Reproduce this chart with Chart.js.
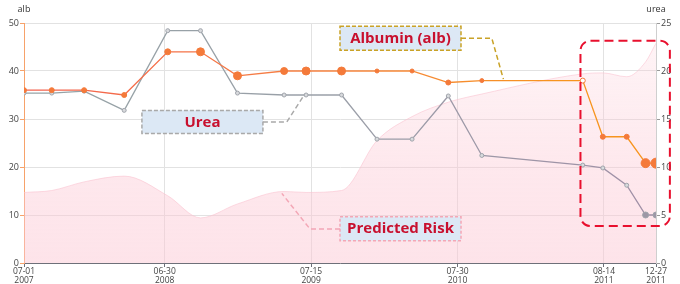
<!DOCTYPE html>
<html>
<head>
<meta charset="utf-8">
<script src="https://cdn.jsdelivr.net/npm/chart.js@4.4.1/dist/chart.umd.min.js"></script>
<style>
html,body{margin:0;padding:0;background:#fff;}
#wrap{width:680px;height:284px;}
</style>
</head>
<body>
<div id="wrap"><canvas id="c" width="680" height="284"></canvas></div>
<script>
// visit dates (x) and the three series
const visitDates = ['2007-07-01','2007-09-11','2007-12-04','2008-03-17','2008-07-08','2008-10-01','2009-01-05',
  '2009-05-06','2009-07-02','2009-10-02','2010-01-02','2010-04-03','2010-07-06','2010-10-01',
  '2011-06-20','2011-08-11','2011-10-12','2011-11-30','2011-12-27'];
const albumin = [36, 36, 36, 35, 44, 44, 39, 40, 40, 40, 40, 40, 37.6, 38, 38, 26.3, 26.3, 20.8, 20.8];
const urea = [17.7, 17.7, 17.9, 15.9, 24.2, 24.2, 17.7, 17.5, 17.5, 17.5, 12.9, 12.9, 17.4, 11.2, 10.2, 9.9, 8.1, 5, 5];
const predictedRisk = [14.7, 15.1, 16.9, 18.1, 14, 9.4, 12.3, 14.9, 14.7, 15.1, 25.5, 30.5, 33.5, 35.2, 39.4, 39.6, 38.8, 41.9, 45.8];
const xTickDates = ['2007-07-01','2008-06-30','2009-07-15','2010-07-30','2011-08-14','2011-12-27'];
const albTicks = [0, 10, 20, 30, 40, 50];
const ureaTicks = [0, 5, 10, 15, 20, 25];

// point sizes per visit
const albRadius = [2.5, 2.5, 2.5, 2.5, 3, 4, 4, 3.5, 4, 4, 2, 2, 2.5, 2, 2.5, 2.5, 2.5, 4.5, 5];
const ureaRadius = [2, 2, 2, 2, 2, 2, 2, 2, 2, 2, 2, 2, 2, 2, 2, 2, 2, 3, 3];
const albHollow = [14];

const DAY = 86400000;
const t0 = Date.parse(visitDates[0]);
const dayOf = s => (Date.parse(s) - t0) / DAY;
const pad = n => String(n).padStart(2, '0');
const FONT = "'Open Sans', 'Noto Sans', sans-serif";

// callouts, anchored in (day, alb-axis value)
const callouts = [
  {text: 'Albumin (alb)', cx: 977, cy: 46.8, w: 121, h: 24, border: '#c9a227', dash: [4, 2],
   leader: [[1134, 46.8], [1214, 46.8], [1244, 38.3]]},
  {text: 'Urea', cx: 463, cy: 29.4, w: 121, h: 23, border: '#a9a9a9', dash: [4, 2],
   leader: [[620, 29.4], [682, 29.4], [727, 35]]},
  {text: 'Predicted Risk', cx: 977, cy: 7.15, w: 121, h: 24, border: '#f3a7b6', dash: [3, 2],
   leader: [[820, 7.1], [742, 7.1], [669, 14.5]]}
];
const focusBox = {x1: 1444, x2: 1676, y1: 46.3, y2: 7.7};

function hGrad(chart, stops) {
  const a = chart.chartArea;
  if (!a) return stops[0][1];
  const g = chart.ctx.createLinearGradient(a.left, 0, a.right, 0);
  stops.forEach(s => g.addColorStop(s[0], s[1]));
  return g;
}

const overlay = {
  id: 'overlay',
  afterDatasetsDraw(chart) {
    const ctx = chart.ctx, x = chart.scales.x, y = chart.scales.y, a = chart.chartArea;
    ctx.save();
    ctx.font = '9px ' + FONT;
    ctx.fillStyle = '#333';
    ctx.textAlign = 'center';
    ctx.textBaseline = 'middle';
    ctx.fillText('alb', a.left, 9);
    ctx.fillText('urea', a.right, 9);

    callouts.forEach(c => {
      const px = x.getPixelForValue(c.cx), py = y.getPixelForValue(c.cy);
      ctx.setLineDash([5, 3]);
      ctx.lineWidth = 1.5;
      ctx.strokeStyle = c.border;
      ctx.beginPath();
      c.leader.forEach((p, i) => {
        const lx = x.getPixelForValue(p[0]), ly = y.getPixelForValue(p[1]);
        if (i === 0) ctx.moveTo(lx, ly); else ctx.lineTo(lx, ly);
      });
      ctx.stroke();
      ctx.fillStyle = '#dce8f5';
      ctx.fillRect(px - c.w / 2, py - c.h / 2, c.w, c.h);
      ctx.setLineDash(c.dash);
      ctx.strokeRect(px - c.w / 2, py - c.h / 2, c.w, c.h);
      ctx.setLineDash([]);
      ctx.fillStyle = '#c8102e';
      ctx.font = 'bold 15px ' + FONT;
      ctx.fillText(c.text, px, py + 0.5);
    });

    const bx1 = x.getPixelForValue(focusBox.x1), bx2 = x.getPixelForValue(focusBox.x2);
    const by1 = y.getPixelForValue(focusBox.y1), by2 = y.getPixelForValue(focusBox.y2);
    ctx.setLineDash([9, 5]);
    ctx.lineWidth = 2;
    ctx.strokeStyle = '#e8102e';
    ctx.beginPath();
    ctx.roundRect(bx1, by1, bx2 - bx1, by2 - by1, 10);
    ctx.stroke();
    ctx.restore();
  }
};

const days = visitDates.map(dayOf);
const toPts = arr => arr.map((v, i) => ({x: days[i], y: v}));

new Chart(document.getElementById('c'), {
  type: 'line',
  data: {
    datasets: [
      {
        label: 'Albumin (alb)',
        data: toPts(albumin),
        yAxisID: 'y',
        borderWidth: 1.3,
        borderColor: ctx => hGrad(ctx.chart, [[0, '#f3604f'], [0.5, '#f6843f'], [0.85, '#f7941e'], [1, '#f7941e']]),
        pointRadius: albRadius,
        pointBorderWidth: 1,
        pointBorderColor: '#f47a3a',
        pointBackgroundColor: ctx => albHollow.includes(ctx.dataIndex) ? '#fff' : '#f47a3a',
        tension: 0
      },
      {
        label: 'Urea',
        data: toPts(urea),
        yAxisID: 'y2',
        borderWidth: 1.3,
        borderColor: ctx => hGrad(ctx.chart, [[0, '#95a3a6'], [0.5, '#9a9fa8'], [1, '#a08fa6']]),
        pointRadius: ureaRadius,
        pointBorderWidth: 1,
        pointBorderColor: '#a0a4ab',
        pointBackgroundColor: ctx => ctx.dataIndex >= 17 ? '#9d97a6' : '#d8dadd',
        tension: 0
      },
      {
        label: 'Predicted Risk',
        data: toPts(predictedRisk),
        yAxisID: 'y',
        borderWidth: 1,
        borderColor: 'rgba(250,195,208,0.6)',
        backgroundColor: ctx => {
          const a = ctx.chart.chartArea;
          if (!a) return 'rgba(252,205,215,0.45)';
          const g = ctx.chart.ctx.createLinearGradient(0, a.top, 0, a.bottom);
          g.addColorStop(0, 'rgba(252,205,215,0.2)');
          g.addColorStop(0.6, 'rgba(252,200,212,0.42)');
          g.addColorStop(1, 'rgba(252,200,212,0.5)');
          return g;
        },
        fill: 'origin',
        pointRadius: 0,
        cubicInterpolationMode: 'monotone'
      }
    ]
  },
  options: {
    responsive: false,
    animation: false,
    events: [],
    layout: {padding: {top: 23, left: 0, right: 0, bottom: 0}},
    plugins: {legend: {display: false}, tooltip: {enabled: false}},
    scales: {
      x: {
        type: 'linear',
        min: 0,
        max: dayOf(xTickDates[xTickDates.length - 1]),
        afterBuildTicks: s => { s.ticks = xTickDates.map(d => ({value: dayOf(d)})); },
        afterFit: s => { s.height = 21; },
        grid: {color: '#e2e2e2', tickLength: 4, tickColor: '#6e7079'},
        border: {color: '#6e7079', width: 1},
        ticks: {
          autoSkip: false, maxRotation: 0, padding: 1, color: '#444',
          font: {family: FONT, size: 8.5, lineHeight: 0.95},
          callback: v => {
            const d = new Date(t0 + v * DAY);
            return [pad(d.getUTCMonth() + 1) + '-' + pad(d.getUTCDate()), String(d.getUTCFullYear())];
          }
        }
      },
      y: {
        position: 'left',
        min: albTicks[0],
        max: albTicks[albTicks.length - 1],
        afterBuildTicks: s => { s.ticks = albTicks.map(v => ({value: v})); },
        afterFit: s => { s.width = 24; },
        grid: {color: '#e2e2e2', tickLength: 4, tickColor: '#f7a26a'},
        border: {color: '#f7a26a', width: 1},
        ticks: {padding: 1, color: '#444', font: {family: FONT, size: 9}}
      },
      y2: {
        position: 'right',
        min: ureaTicks[0],
        max: ureaTicks[ureaTicks.length - 1],
        afterBuildTicks: s => { s.ticks = ureaTicks.map(v => ({value: v})); },
        afterFit: s => { s.width = 24; },
        grid: {drawOnChartArea: false, tickLength: 4, tickColor: '#999'},
        border: {color: '#cfcfcf', width: 1},
        ticks: {padding: 1, color: '#444', font: {family: FONT, size: 9}}
      }
    }
  },
  plugins: [overlay]
});
</script>
</body>
</html>
